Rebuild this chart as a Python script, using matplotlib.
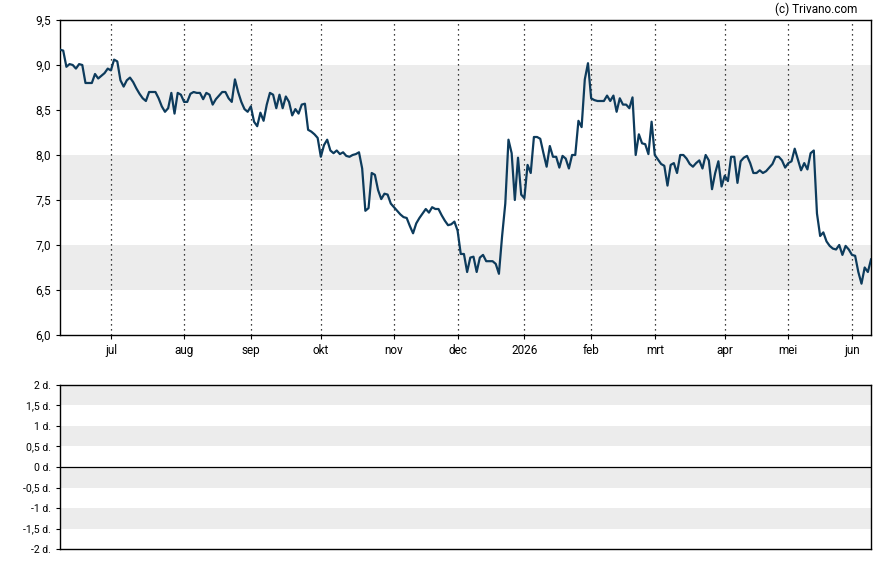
import numpy as np
import pandas as pd
import matplotlib
matplotlib.use('Agg')
import matplotlib.pyplot as plt

# trading days (Euronext calendar, holidays removed)
holidays = ['2025-12-25', '2025-12-26', '2026-01-01', '2026-04-03', '2026-04-06', '2026-05-01']
dates = pd.bdate_range('2025-06-09', '2026-06-09')
dates = dates[~dates.isin(pd.to_datetime(holidays))]

# closing prices
prices = [
    9.17, 9.16, 8.98, 9.01, 9.00, 8.96, 9.01, 9.00, 8.80, 8.80,
    8.80, 8.90, 8.85, 8.88, 8.91, 8.96, 8.94, 9.06, 9.04, 8.83,
    8.76, 8.83, 8.86, 8.81, 8.74, 8.68, 8.63, 8.60, 8.70, 8.70,
    8.70, 8.63, 8.54, 8.48, 8.52, 8.69, 8.46, 8.69, 8.67, 8.59,
    8.59, 8.68, 8.70, 8.69, 8.69, 8.62, 8.69, 8.67, 8.56, 8.62,
    8.66, 8.70, 8.70, 8.63, 8.59, 8.84, 8.70, 8.59, 8.51, 8.48,
    8.54, 8.37, 8.32, 8.47, 8.38, 8.56, 8.69, 8.67, 8.52, 8.67,
    8.52, 8.65, 8.59, 8.44, 8.51, 8.46, 8.56, 8.57, 8.28, 8.26,
    8.23, 8.19, 7.98, 8.11, 8.17, 8.05, 8.02, 8.05, 8.01, 8.03,
    7.99, 7.98, 8.00, 8.01, 8.03, 7.85, 7.38, 7.41, 7.80, 7.78,
    7.61, 7.51, 7.57, 7.56, 7.46, 7.42, 7.38, 7.34, 7.31, 7.30,
    7.21, 7.13, 7.24, 7.30, 7.35, 7.40, 7.36, 7.42, 7.40, 7.40,
    7.33, 7.27, 7.22, 7.23, 7.26, 7.16, 6.90, 6.90, 6.70, 6.86,
    6.87, 6.70, 6.86, 6.89, 6.82, 6.82, 6.82, 6.79, 6.68, 7.10,
    7.46, 8.17, 8.02, 7.50, 7.97, 7.56, 7.52, 7.89, 7.80, 8.20,
    8.20, 8.18, 8.02, 7.87, 8.10, 7.98, 7.98, 7.86, 7.99, 7.96,
    7.85, 8.00, 8.00, 8.38, 8.31, 8.84, 9.02, 8.63, 8.61, 8.60,
    8.60, 8.60, 8.66, 8.60, 8.66, 8.48, 8.63, 8.56, 8.56, 8.52,
    8.64, 8.00, 8.23, 8.13, 8.12, 8.01, 8.37, 8.00, 7.95, 7.90,
    7.88, 7.66, 7.89, 7.91, 7.80, 8.00, 8.00, 7.96, 7.90, 7.87,
    7.91, 7.94, 7.85, 8.00, 7.94, 7.62, 7.80, 7.93, 7.65, 7.77,
    7.71, 7.98, 7.98, 7.69, 7.93, 7.97, 7.99, 7.91, 7.80, 7.80,
    7.83, 7.80, 7.82, 7.86, 7.90, 7.98, 7.98, 7.94, 7.86, 7.91,
    7.93, 8.07, 7.95, 7.83, 7.91, 7.84, 8.02, 8.05, 7.35, 7.10,
    7.14, 7.04, 6.99, 6.96, 6.95, 7.00, 6.89, 6.99, 6.95, 6.89,
    6.88, 6.70, 6.57, 6.75, 6.70, 6.84,
]

month_names = ['jul', 'aug', 'sep', 'okt', 'nov', 'dec', '2026',
               'feb', 'mrt', 'apr', 'mei', 'jun']
price_bands = [(6.5, 7.0), (7.5, 8.0), (8.5, 9.0)]
div_ticks = [2, 1.5, 1, 0.5, 0, -0.5, -1, -1.5, -2]
div_labels = ['2 d.', '1,5 d.', '1 d.', '0,5 d.', '0 d.', '-0,5 d.', '-1 d.', '-1,5 d.', '-2 d.']
div_bands = [(1.5, 2), (0.5, 1), (-0.5, 0), (-1.5, -1)]

plt.rcParams['font.family'] = ['Roboto', 'DejaVu Sans']

n = min(len(dates), len(prices))
x = np.arange(n)
month_idx = [i for i in range(1, n) if dates[i].month != dates[i - 1].month]

fig = plt.figure(figsize=(8.88, 5.65), dpi=100)
ax = fig.add_axes([0.0676, 0.4071, 0.9133, 0.5575])
ax2 = fig.add_axes([0.0676, 0.0283, 0.9133, 0.2903])

# price panel
for lo, hi in price_bands:
    ax.axhspan(lo, hi, color='#ececec', lw=0, zorder=0)
for i in month_idx:
    ax.axvline(i, color='black', ls=(0, (1, 3)), lw=0.9, zorder=1)
ax.plot(x, prices[:n], color='#0d3b5c', lw=1.6, zorder=3)
ax.set_xlim(0, n - 1)
ax.set_ylim(6.0, 9.5)
ax.set_yticks(np.arange(6.0, 9.51, 0.5))
ax.set_yticklabels([('%.1f' % v).replace('.', ',') for v in np.arange(6.0, 9.51, 0.5)])
ax.set_xticks(month_idx)
ax.set_xticklabels(month_names[:len(month_idx)])
ax.tick_params(axis='both', labelsize=8.5, length=3, width=0.8, colors='black')
for s in ax.spines.values():
    s.set_linewidth(1.0)

# dividend panel
for lo, hi in div_bands:
    ax2.axhspan(lo, hi, color='#ececec', lw=0, zorder=0)
ax2.axhline(0, color='black', lw=0.9)
ax2.set_xlim(0, n - 1)
ax2.set_ylim(-2, 2)
ax2.set_yticks(div_ticks)
ax2.set_yticklabels(div_labels)
ax2.set_xticks([])
ax2.tick_params(axis='y', labelsize=7.5, length=3, width=0.8)
for s in ax2.spines.values():
    s.set_linewidth(1.0)

fig.text(0.965, 0.984, '(c) Trivano.com', ha='right', va='center', fontsize=8.5)

fig.savefig('out.png', dpi=100)
